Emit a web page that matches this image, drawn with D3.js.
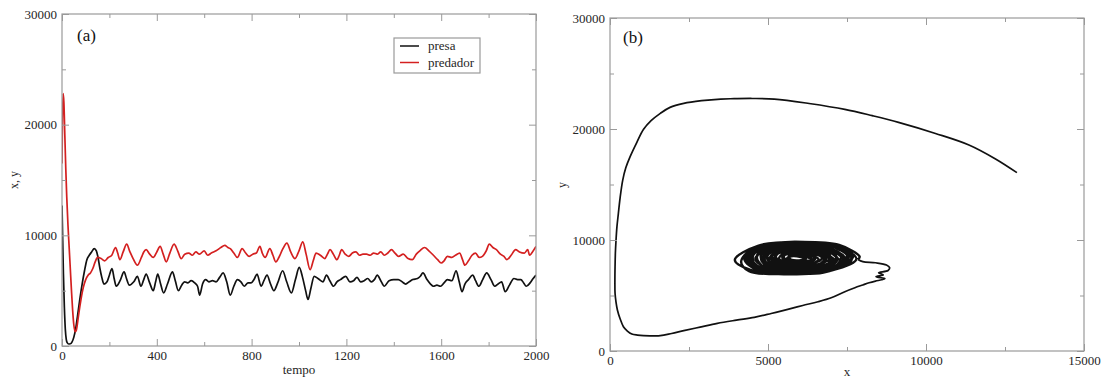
<!DOCTYPE html>
<html><head><meta charset="utf-8">
<script src="https://cdn.jsdelivr.net/npm/d3@7"></script>
<style>
body{margin:0;background:#fff}
svg{display:block}
text{font-family:"Liberation Serif","DejaVu Serif",serif}
</style>
</head><body>
<svg id="c" width="1107" height="381"></svg>
<script>
// ---------- DATA ----------
const timeTicks = [0,400,800,1200,1600,2000];
const timeMinor = [200,600,1000,1400,1800];
const popTicks = [0,10000,20000,30000];
const popMinor = [5000,15000,25000];
const xTicksB = [0,5000,10000,15000];
const xMinorB = [2500,7500,12500];
const seriesNames = ["presa","predador"];

// presa (prey) vs tempo  [t, x]
const presa = [[0,12700],[3,9500],[6,6500],[10,3500],[14,1500],[18,600],[22,300],[28,180],[35,200],[42,350],[50,800],[58,1600],[66,2800],[75,4200],[85,5600],[95,6800],[105,7800],[115,8200],[125,8500],[136,8800],[145,8600],[152,8000],[160,7000],[168,6200],[177,5600],[190,5800],[200,6400],[211,7000],[220,6100],[229,5400],[245,5900],[262,6700],[272,6100],[284,5500],[303,5800],[318,6300],[333,5400],[345,6000],[355,6500],[370,5700],[385,5000],[395,5800],[404,6500],[415,5700],[429,4800],[445,5600],[466,6700],[478,5900],[491,5000],[505,5500],[517,5800],[530,5700],[545,5900],[560,5700],[572,5400],[581,4600],[593,5600],[606,6000],[620,5800],[635,5900],[650,5800],[665,6200],[680,6600],[695,5800],[710,4600],[725,5400],[740,6000],[755,5800],[769,5400],[785,5700],[798,5700],[810,6000],[823,6500],[840,5400],[852,5900],[865,6400],[880,5600],[894,5000],[910,5700],[931,6800],[948,5800],[968,4800],[985,6000],[1001,7100],[1015,6200],[1028,5000],[1038,4200],[1050,5200],[1064,6300],[1080,6100],[1101,5800],[1116,6400],[1130,5900],[1146,5400],[1160,5800],[1175,6000],[1197,6300],[1215,5800],[1230,5900],[1245,6200],[1260,5800],[1275,5900],[1290,6100],[1305,5800],[1318,6000],[1330,6400],[1345,5900],[1360,5400],[1380,5900],[1400,6000],[1419,6000],[1435,5800],[1450,5600],[1465,5800],[1480,6000],[1500,6100],[1512,6300],[1523,6600],[1540,6000],[1555,5600],[1567,5400],[1582,5500],[1597,5400],[1612,5700],[1626,6000],[1645,5900],[1663,6800],[1676,5800],[1688,4900],[1700,5600],[1715,6000],[1733,6400],[1745,5900],[1759,5400],[1775,6000],[1792,6600],[1810,6000],[1826,5400],[1840,5600],[1855,5800],[1870,4900],[1888,5500],[1907,6100],[1922,6000],[1936,6000],[1948,5700],[1959,5400],[1975,5700],[1988,6100],[2000,6400]];

// predador (predator) vs tempo  [t, y]
const predador = [[0,16500],[2,20500],[5,22800],[8,22000],[12,19000],[16,16000],[20,13500],[25,11000],[30,9000],[35,7000],[40,5000],[45,3200],[50,1900],[55,1300],[60,1400],[65,2000],[70,2800],[80,4200],[90,5300],[100,6000],[110,6400],[120,6600],[130,7000],[140,7600],[150,8000],[165,7900],[180,7700],[195,8000],[210,8200],[226,8900],[235,8400],[244,7800],[258,8500],[273,9200],[285,8600],[300,7900],[318,7300],[335,8000],[345,8500],[355,8700],[370,8300],[385,8000],[400,8500],[414,9000],[427,8300],[440,7600],[455,8400],[473,9200],[488,8600],[503,7900],[518,8300],[535,8400],[550,8200],[565,8500],[580,8300],[600,8600],[615,8200],[630,8400],[650,8600],[670,8900],[687,9100],[700,8900],[710,8800],[725,8400],[740,8000],[760,8800],[775,8400],[790,8100],[805,8300],[820,8400],[835,9000],[845,8400],[857,8000],[877,8800],[890,8200],[902,7600],[915,8000],[930,8700],[949,9300],[965,8500],[983,7900],[1000,8600],[1016,9400],[1030,8300],[1047,6900],[1060,7700],[1072,8400],[1090,8200],[1109,7900],[1120,8300],[1131,8700],[1145,8300],[1160,7800],[1170,8200],[1180,8700],[1195,8300],[1210,8100],[1225,8400],[1240,8500],[1255,8200],[1270,8300],[1285,8300],[1300,8200],[1315,8400],[1330,8300],[1345,8500],[1360,8200],[1375,8400],[1390,8700],[1405,8400],[1420,8100],[1440,8300],[1460,7900],[1478,7800],[1495,8300],[1510,8600],[1530,8900],[1548,8600],[1567,8200],[1585,7800],[1600,7500],[1612,7700],[1626,8100],[1645,8000],[1660,8200],[1678,8400],[1690,7800],[1700,7300],[1715,7700],[1730,8200],[1745,8400],[1760,8000],[1774,8100],[1790,8600],[1803,9200],[1818,8900],[1833,8700],[1850,8300],[1865,8100],[1877,7800],[1895,8200],[1914,8700],[1930,8500],[1951,8400],[1965,8700],[1973,8200],[1985,8500],[2000,9000]];

// phase portrait: initial transient [x, y]
const phaseTransient = [[12877,16066],[12200,17300],[11359,18559],[10300,19600],[9130,20600],[8300,21200],[7431,21770],[6300,22300],[5200,22700],[4500,22750],[3928,22730],[3503,22700],[2900,22550],[2335,22310],[1900,21950],[1592,21410],[1300,20750],[1062,19970],[850,18800],[637,17510],[500,16500],[403,15400],[320,13800],[265,12400],[220,11200],[191,10000],[170,8800],[160,7600],[155,6400],[160,5200],[190,4400],[234,3700],[320,2900],[425,2190],[550,1800],[690,1530],[870,1430],[1062,1380],[1300,1370],[1592,1380],[1950,1580],[2335,1830],[2850,2150],[3397,2490],[4000,2780],[4565,3030],[5100,3380],[5626,3750],[6100,4100],[6582,4440],[7000,4800],[7431,5345],[7750,5700],[8000,5950],[8200,6150],[8400,6300],[8600,6420],[8700,6520],[8420,6700],[8650,6850],[8500,7050],[8800,7250],[8850,7500],[8750,7750],[8400,7950],[8000,8050],[7850,8250]];

// phase portrait: asymptotic loops around the equilibrium [x, y]
const phaseLoops = [
 [[7900,8500],[7250,9550],[6000,9820],[4700,9500],[3950,8200],[4450,7300],[5600,6980],[7000,7250]],
 [[7800,8300],[7150,9450],[5850,9780],[4600,9380],[4150,8050],[4400,7200],[5500,6920],[6950,7200]],
 [[7650,8250],[7200,9350],[6150,9800],[4900,9520],[4300,8450],[4580,7420],[5800,7020],[7100,7380]],
 [[7550,8400],[6950,9500],[5700,9680],[4500,9200],[4250,8300],[4700,7220],[6000,7000],[7250,7480]],
 [[7700,8600],[7000,9620],[5900,9720],[4800,9320],[4420,8500],[4620,7560],[5500,7100],[6850,7120]],
 [[7500,8600],[6900,9550],[5800,9650],[4750,9250],[4350,8350],[4800,7350],[5900,7050],[7000,7350]],
 [[7650,8450],[7050,9400],[6000,9600],[4950,9400],[4450,8600],[4650,7700],[5400,7150],[6700,7150]],
 [[7450,8300],[6850,9320],[5650,9530],[4700,9120],[4480,8120],[4880,7300],[6100,7080],[7200,7580]],
 [[7400,8150],[6950,9150],[6100,9600],[5000,9550],[4400,8700],[4500,7750],[5300,7200],[6600,7050]],
 [[7600,8700],[6750,9680],[5500,9620],[4620,9020],[4500,7920],[5100,7160],[6300,7060],[7300,7700]],
 [[7550,8800],[6600,9600],[5300,9550],[4550,8800],[4600,7700],[5300,7100],[6500,7150],[7350,7900]],
 [[7350,8500],[6600,9420],[5400,9500],[4700,8920],[4680,8000],[5200,7280],[6400,7180],[7200,7800]],
 [[7300,8700],[6500,9500],[5200,9400],[4650,8500],[4900,7500],[5700,7150],[6800,7350],[7350,8100]],
 [[7250,8250],[6800,9200],[5900,9450],[5000,9200],[4600,8300],[5000,7450],[6100,7250],[6950,7600]],
 [[7200,8350],[6450,9330],[5300,9330],[4780,8700],[4880,7820],[5500,7280],[6550,7300],[7050,7900]],
 [[7150,8600],[6400,9350],[5500,9350],[4850,8900],[4800,8100],[5400,7400],[6300,7350],[7000,7900]],
 [[7000,8400],[6250,9150],[5300,9120],[4980,8520],[5180,7800],[5800,7480],[6550,7580],[6850,8100]],
 [[7000,8200],[6500,9000],[5700,9250],[5000,9000],[4850,8300],[5300,7600],[6200,7450],[6900,7800]],
 [[6900,8550],[6300,9250],[5450,9300],[4900,8800],[4950,7950],[5600,7420],[6450,7450],[6950,7950]],
 [[7100,8200],[6500,9050],[5600,9200],[5100,8600],[5050,7900],[5650,7550],[6600,7500],[7000,7800]],
 [[6950,8650],[6200,9300],[5300,9150],[4950,8600],[5100,7900],[5800,7550],[6600,7700]],
 [[6850,8350],[6300,8950],[5600,9050],[5150,8700],[5200,8100],[5700,7750],[6400,7750],[6800,8050]],
 [[6800,8300],[6200,9000],[5400,9000],[5100,8400],[5350,7800],[5950,7650],[6550,7750],[6750,8100]],
 [[6750,8600],[6100,9100],[5400,8950],[5200,8300],[5600,7900],[6200,7850],[6650,8150]],
 [[6700,8450],[6100,8900],[5500,8950],[5250,8550],[5400,8000],[5950,7800],[6450,7950]],
 [[6600,8250],[6100,8850],[5500,8800],[5350,8300],[5700,8000],[6250,8000]],
 [[6500,8350],[6000,8750],[5600,8750],[5450,8400],[5650,8050],[6100,8000],[6400,8150]],
 [[6450,8550],[5900,8800],[5500,8550],[5600,8150],[6050,8050],[6400,8250]],
 [[6300,8400],[5900,8650],[5650,8500],[5750,8200],[6100,8200]],
 [[6200,8300],[5800,8550],[5600,8350],[5900,8150],[6200,8250]]
];

// ---------- DRAW ----------
const svg = d3.select("#c");
const GRAY = "#9a9a9a", TXT = "#262626", FS = 13;

function panel(g, x, y, xt, xm, yt, ym) {
  const [x0,x1] = x.range(), [y0,y1] = y.range();
  const fmt = d3.format("d");
  const ax = [
    [d3.axisBottom(x).tickValues(xt).tickSize(-7).tickPadding(5).tickFormat(fmt), `translate(0,${y0})`],
    [d3.axisBottom(x).tickValues(xm).tickSize(-4).tickFormat(""), `translate(0,${y0})`],
    [d3.axisTop(x).tickValues(xt).tickSize(-7).tickFormat(""), `translate(0,${y1})`],
    [d3.axisTop(x).tickValues(xm).tickSize(-4).tickFormat(""), `translate(0,${y1})`],
    [d3.axisLeft(y).tickValues(yt).tickSize(-7).tickPadding(5).tickFormat(fmt), `translate(${x0},0)`],
    [d3.axisLeft(y).tickValues(ym).tickSize(-4).tickFormat(""), `translate(${x0},0)`],
    [d3.axisRight(y).tickValues(yt).tickSize(-7).tickFormat(""), `translate(${x1},0)`],
    [d3.axisRight(y).tickValues(ym).tickSize(-4).tickFormat(""), `translate(${x1},0)`]
  ];
  ax.forEach(([a,t]) => {
    const s = g.append("g").attr("transform", t).call(a.tickSizeOuter(0));
    s.select(".domain").remove();
    s.selectAll("line").attr("stroke", GRAY);
    s.selectAll("text").attr("fill", TXT).attr("font-size", FS)
      .attr("font-family", '"Liberation Serif","DejaVu Serif",serif');
  });
  g.append("rect").attr("x", x0).attr("y", y1).attr("width", x1-x0).attr("height", y0-y1)
    .attr("fill", "none").attr("stroke", GRAY).attr("stroke-width", 1.2);
}

// Panel (a)
const xa = d3.scaleLinear().domain([0,2000]).range([62,536]);
const ya = d3.scaleLinear().domain([0,30000]).range([346,14]);
const ga = svg.append("g");
ga.append("clipPath").attr("id","ca").append("rect").attr("x",62).attr("y",14).attr("width",474).attr("height",332);
const lineA = d3.line().x(d=>xa(d[0])).y(d=>ya(d[1])).curve(d3.curveMonotoneX);
ga.append("path").datum(presa).attr("d", lineA).attr("fill","none").attr("stroke","#111").attr("stroke-width",1.7).attr("clip-path","url(#ca)");
ga.append("path").datum(predador).attr("d", lineA).attr("fill","none").attr("stroke","#d42020").attr("stroke-width",1.7).attr("clip-path","url(#ca)");
panel(ga, xa, ya, timeTicks, timeMinor, popTicks, popMinor);
ga.append("text").attr("x", 299).attr("y", 374).attr("text-anchor","middle").attr("font-size",13).attr("fill",TXT).text("tempo");
ga.append("text").attr("transform","translate(18,180) rotate(-90)").attr("text-anchor","middle").attr("font-size",12).attr("fill",TXT).text("x, y");
ga.append("text").attr("x", 77).attr("y", 41).attr("font-size",17).attr("fill","#111").text("(a)");

// legend
const lg = ga.append("g");
lg.append("rect").attr("x",394).attr("y",38).attr("width",86).attr("height",35).attr("fill","#fff").attr("stroke",GRAY).attr("stroke-width",1.2);
const legColors = ["#111","#d42020"];
seriesNames.forEach((n,i) => {
  const yy = 46 + i*16.5;
  lg.append("line").attr("x1",400).attr("x2",419).attr("y1",yy).attr("y2",yy).attr("stroke",legColors[i]).attr("stroke-width",1.5);
  lg.append("text").attr("x",428).attr("y",yy+4).attr("font-size",13).attr("fill",TXT).text(n);
});

// Panel (b)
const xb = d3.scaleLinear().domain([0,15000]).range([610,1084]);
const yb = d3.scaleLinear().domain([0,30000]).range([351,18]);
const gb = svg.append("g");
gb.append("clipPath").attr("id","cb").append("rect").attr("x",610).attr("y",18).attr("width",474).attr("height",333);
const lineB = d3.line().x(d=>xb(d[0])).y(d=>yb(d[1])).curve(d3.curveCatmullRom.alpha(0.5));
gb.append("path").datum(phaseTransient).attr("d", lineB).attr("fill","none").attr("stroke","#111").attr("stroke-width",1.7).attr("clip-path","url(#cb)");
const loopPath = [phaseTransient[phaseTransient.length-1]].concat(...phaseLoops);
gb.append("path").datum(loopPath).attr("d", lineB).attr("fill","none").attr("stroke","#111").attr("stroke-width",2.4).attr("stroke-linejoin","round").attr("clip-path","url(#cb)");
panel(gb, xb, yb, xTicksB, xMinorB, popTicks, popMinor);
gb.append("text").attr("x", 847).attr("y", 376).attr("text-anchor","middle").attr("font-size",13).attr("fill",TXT).text("x");
gb.append("text").attr("transform","translate(566,185) rotate(-90)").attr("text-anchor","middle").attr("font-size",12).attr("fill",TXT).text("y");
gb.append("text").attr("x", 623).attr("y", 43).attr("font-size",17).attr("fill","#111").text("(b)");
</script>
</body></html>
